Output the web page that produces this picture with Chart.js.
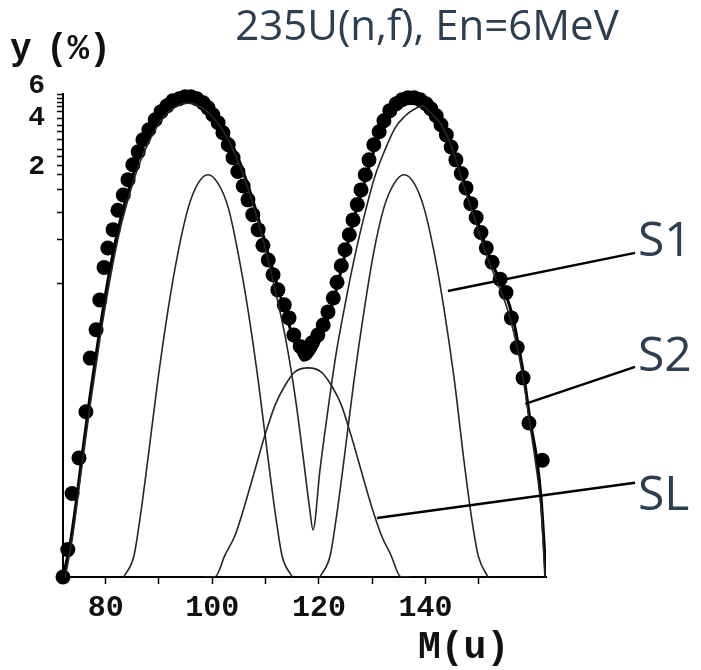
<!DOCTYPE html>
<html>
<head>
<meta charset="utf-8">
<script src="https://cdn.jsdelivr.net/npm/chart.js@4"></script>
<style>
  html, body { margin: 0; padding: 0; background: #fff; }
  canvas { display: block; }
</style>
</head>
<body>
<canvas id="yields" width="701" height="670"></canvas>
<script>
// measured fission yields (dots)
const massPoints = [72.0, 72.9, 73.7, 75.0, 76.3, 77.1, 78.2, 78.9, 79.7, 80.4, 81.4, 82.3, 83.3, 84.2, 85.1, 86.1, 87.0, 88.1, 89.3, 90.4,
  91.5, 92.6, 93.8, 94.9, 96.0, 97.1, 98.3, 99.2, 100.1, 101.1, 102.0, 103.0, 103.9, 104.8, 105.8, 106.7, 107.6, 108.6, 109.5, 110.5,
  111.4, 112.3, 113.5, 114.4, 115.3, 116.5, 117.6, 118.7, 119.8, 120.8, 121.7, 122.7, 123.4, 124.2, 124.9, 125.7, 126.4, 127.2, 127.9, 128.7,
  129.4, 130.3, 131.3, 132.2, 133.3, 134.5, 135.6, 136.7, 137.9, 139.0, 140.1, 141.0, 142.0, 142.9, 143.9, 144.8, 145.7, 146.7, 147.6, 148.5,
  149.5, 150.4, 151.4, 152.5, 154.0, 155.1, 156.1, 157.2, 158.3, 159.4, 161.9];
const yieldPoints = [0, 2e-7, 1.6e-4, 1.35e-3, 0.0096, 0.052, 0.108, 0.214, 0.416, 0.60, 0.83, 1.15, 1.47, 1.86, 2.32, 2.79, 3.30, 3.78, 4.32, 4.80,
  5.17, 5.51, 5.65, 5.79, 5.79, 5.65, 5.37, 5.04, 4.61, 4.15, 3.63, 3.08, 2.57, 2.10, 1.69, 1.36, 1.07, 0.83, 0.63, 0.48,
  0.36, 0.265, 0.192, 0.143, 0.095, 0.071, 0.061, 0.078, 0.095, 0.121, 0.164, 0.223, 0.31, 0.43, 0.58, 0.76, 0.98, 1.26, 1.59, 2.0,
  2.49, 3.08, 3.68, 4.26, 4.86, 5.31, 5.58, 5.72, 5.72, 5.58, 5.31, 4.98, 4.55, 4.04, 3.53, 2.99, 2.49, 2.04, 1.64, 1.28,
  1.02, 0.79, 0.60, 0.46, 0.33, 0.25, 0.143, 0.069, 0.0295, 0.0063, 0.0012];

// total fit (thick line)
const fitMass = [72.0, 73.3, 74.4, 75.6, 77.1, 78.9, 80.8, 82.7, 84.6, 86.4, 88.3, 90.2, 92.1, 94.0, 95.8, 97.7, 99.6, 101.5, 103.3, 105.2,
  107.1, 109.0, 110.8, 112.7, 114.6, 115.9, 117.0, 118.3, 119.8, 121.3, 123.0, 124.9, 126.8, 128.7, 130.5, 132.4, 134.3, 136.2, 138.0, 139.9,
  141.8, 143.7, 145.5, 147.4, 149.3, 151.4, 153.2, 155.1, 156.4, 157.4, 158.5, 159.6, 160.9, 161.7, 162.2, 162.6];
const fitYield = [0, 5e-7, 6.6e-5, 1.56e-3, 0.0172, 0.108, 0.40, 0.96, 1.72, 2.68, 3.68, 4.55, 5.17, 5.51, 5.58, 5.37, 4.92, 4.21, 3.30, 2.39,
  1.54, 0.90, 0.48, 0.238, 0.112, 0.065, 0.049, 0.053, 0.074, 0.121, 0.238, 0.53, 1.07, 1.86, 2.95, 4.21, 5.17, 5.58, 5.58, 5.24,
  4.55, 3.63, 2.64, 1.72, 1.07, 0.60, 0.381, 0.238, 0.143, 0.074, 0.0294, 0.0071, 0.0012, 0.0001, 1.2e-6, 0];

// S1 mode (two narrow humps)
const s1Mass = [83.4, 85.3, 86.4, 87.9, 89.8, 91.7, 93.6, 95.5, 97.3, 99.2, 101.1, 103.0, 104.8, 106.7, 108.6, 110.5, 112.0, 113.1, 115.0,
  117.6,
  120.2, 122.1, 123.2, 124.7, 126.6, 128.5, 130.3, 132.2, 134.1, 136.0, 137.9, 139.7, 141.6, 143.5, 145.4, 147.2, 148.7, 149.9, 151.7];
const s1Yield = [0, 4e-8, 1.6e-5, 0.0012, 0.0277, 0.172, 0.559, 1.20, 1.75, 2.0, 1.75, 1.20, 0.559, 0.172, 0.0277, 0.0012, 1.6e-5, 4e-8, 0,
  null,
  0, 4e-8, 1.6e-5, 0.0012, 0.0277, 0.172, 0.559, 1.20, 1.75, 2.0, 1.75, 1.20, 0.559, 0.172, 0.0277, 0.0012, 1.6e-5, 4e-8, 0];

// S2 mode
const s2Mass = [72.4, 73.7, 75.2, 77.1, 78.9, 80.8, 82.7, 84.6, 86.4, 88.3, 90.2, 92.1, 94.0, 95.5, 97.0, 98.8, 100.7, 102.6, 104.4, 106.3,
  108.1, 110.0, 111.9, 113.8, 115.5, 117.0, 118.3, 118.9, 120.2, 121.7, 123.2, 124.9, 126.8, 128.7, 130.5, 132.4, 134.3, 136.2, 137.7, 139.4,
  141.0, 142.7, 144.2, 145.7, 147.4, 149.3, 151.2, 153.1, 154.9, 156.2, 157.4, 158.5, 159.6, 160.7, 161.7, 162.4];
const s2Yield = [0, 1.2e-6, 3.9e-4, 0.0123, 0.084, 0.325, 0.83, 1.54, 2.39, 3.30, 4.21, 4.86, 5.24, 5.37, 5.24, 4.86, 4.26, 3.48, 2.64, 1.79,
  1.11, 0.58, 0.25, 0.084, 0.0172, 0.00156, 4.3e-5, 5.1e-6, 7.1e-4, 0.0103, 0.057, 0.192, 0.53, 1.12, 1.95, 2.87, 3.88, 4.55, 4.92, 5.15,
  4.73, 4.15, 3.39, 2.49, 1.59, 0.98, 0.56, 0.34, 0.205, 0.121, 0.061, 0.0237, 0.0058, 0.00094, 4.3e-5, 0];

// SL mode
const slMass = [98.6, 100.5, 102.4, 104.3, 106.1, 108.0, 109.9, 111.8, 113.7, 115.5, 118.0, 120.4, 122.3, 124.2, 126.0, 127.9, 129.8, 131.7, 133.5, 135.4, 137.3];
const slYield = [0, 0, 5.4e-8, 2.6e-6, 6.6e-5, 0.00071, 0.0039, 0.0123, 0.0237, 0.0352, 0.0395, 0.0352, 0.0237, 0.0123, 0.0039, 0.00071, 6.6e-5, 2.6e-6, 5.4e-8, 0, 0];

// axes
const xTicks = [80, 90, 100, 110, 120, 130, 140, 150];
const xLabelled = [80, 100, 120, 140];
const yTicks = [0.3, 0.7, 1.1, 1.6, 2, 2.3, 2.6, 2.9, 3.3, 3.7, 4, 4.4, 4.8, 5.1, 5.4, 5.7, 6];
const yLabelled = [2, 4, 6];

// mode labels with leader lines (curve end / label end in data units)
const modeNames = ["S1", "S2", "SL"];
const leaderCurveMass = [144.2, 158.7, 130.9];
const leaderCurveYield = [0.259, 0.0127, 2.0e-5];
const leaderLabelMass = [179.3, 179.3, 179.3];
const leaderLabelYield = [0.548, 0.0407, 0.00033];

const POW = 1 / 6; // y axis is drawn on a root scale

class PowerScale extends Chart.LinearScale {
  static id = "power";
  static defaults = Chart.LinearScale.defaults;
  getPixelForValue(value) {
    if (value === null || value === undefined || isNaN(value)) return NaN;
    const a = Math.pow(Math.max(this.min, 0), POW);
    const b = Math.pow(this.max, POW);
    return this.getPixelForDecimal((Math.pow(Math.max(value, 0), POW) - a) / (b - a));
  }
  getValueForPixel(pixel) {
    const a = Math.pow(Math.max(this.min, 0), POW);
    const b = Math.pow(this.max, POW);
    return Math.pow(a + this.getDecimalForPixel(pixel) * (b - a), 1 / POW);
  }
}
Chart.register(PowerScale);

function pairs(xs, ys) {
  return xs.map((x, i) => ({ x: x, y: ys[i] }));
}

const textColor = "#2c3e50";
const monoFont = "'Liberation Mono', 'DejaVu Sans Mono', monospace";

const extrasPlugin = {
  id: "extras",
  afterDraw(chart) {
    const ctx = chart.ctx;
    const xs = chart.scales.x;
    const ys = chart.scales.y;
    ctx.save();

    // title
    ctx.fillStyle = textColor;
    ctx.font = "42px 'Open Sans', 'Noto Sans', sans-serif";
    ctx.textAlign = "center";
    ctx.textBaseline = "middle";
    ctx.fillText("235U(n,f), En=6MeV", 427, 28);

    // axis titles
    ctx.fillStyle = "#111";
    ctx.font = "bold 36px " + monoFont;
    ctx.textAlign = "left";
    ctx.fillText("y", 10, 50);
    ctx.fillText("(%)", 46, 50);
    ctx.font = "bold 38px " + monoFont;
    ctx.fillText("M(u)", 418, 648);

    // leader lines
    ctx.strokeStyle = "#000";
    ctx.lineWidth = 2.5;
    for (let i = 0; i < modeNames.length; i++) {
      ctx.beginPath();
      ctx.moveTo(xs.getPixelForValue(leaderLabelMass[i]), ys.getPixelForValue(leaderLabelYield[i]));
      ctx.lineTo(xs.getPixelForValue(leaderCurveMass[i]), ys.getPixelForValue(leaderCurveYield[i]));
      ctx.stroke();
    }

    // mode names
    ctx.fillStyle = textColor;
    ctx.font = "48px 'Open Sans', 'Noto Sans', sans-serif";
    ctx.textAlign = "left";
    const nameOffset = [-11, -10, 14];
    for (let i = 0; i < modeNames.length; i++) {
      const px = xs.getPixelForValue(leaderLabelMass[i]);
      const py = ys.getPixelForValue(leaderLabelYield[i]);
      ctx.fillText(modeNames[i], px + 3, py + nameOffset[i]);
    }
    ctx.restore();
  }
};

const thinLine = {
  showLine: true,
  pointRadius: 0,
  borderColor: "#262626",
  borderWidth: 1.6,
  cubicInterpolationMode: "monotone",
  spanGaps: false
};

new Chart(document.getElementById("yields"), {
  type: "scatter",
  data: {
    datasets: [
      Object.assign({ label: "S1", data: pairs(s1Mass, s1Yield) }, thinLine),
      Object.assign({ label: "S2", data: pairs(s2Mass, s2Yield) }, thinLine),
      Object.assign({ label: "SL", data: pairs(slMass, slYield) }, thinLine),
      {
        label: "fit",
        data: pairs(fitMass, fitYield),
        showLine: true,
        pointRadius: 0,
        borderColor: "#000",
        borderWidth: 3,
        cubicInterpolationMode: "monotone"
      },
      {
        label: "data",
        data: pairs(massPoints, yieldPoints),
        showLine: false,
        pointRadius: 7.5,
        pointBackgroundColor: "#000",
        pointBorderWidth: 0,
        clip: false
      }
    ]
  },
  options: {
    responsive: false,
    animation: false,
    devicePixelRatio: 1,
    layout: { padding: { top: 94, right: 155, left: 0, bottom: 0 } },
    plugins: {
      legend: { display: false },
      title: { display: false },
      tooltip: { enabled: false }
    },
    scales: {
      x: {
        type: "linear",
        min: 72,
        max: 162.6,
        afterFit: (scale) => { scale.height = 93; },
        afterBuildTicks: (scale) => { scale.ticks = xTicks.map(v => ({ value: v })); },
        border: { display: true, color: "#000", width: 2 },
        grid: { drawOnChartArea: false, drawTicks: true, tickLength: 7, tickColor: "#000", tickWidth: 1.5 },
        ticks: {
          autoSkip: false,
          maxRotation: 0,
          padding: 6,
          color: "#111",
          font: { family: monoFont, size: 30, weight: "bold" },
          callback: (v) => xLabelled.includes(v) ? String(v) : ""
        }
      },
      y: {
        type: "power",
        min: 0,
        max: 6,
        afterFit: (scale) => { scale.width = 63; },
        afterBuildTicks: (scale) => { scale.ticks = yTicks.map(v => ({ value: v })); },
        border: { display: true, color: "#000", width: 2 },
        grid: { drawOnChartArea: false, drawTicks: true, tickLength: 6, tickColor: "#000", tickWidth: 1.5 },
        ticks: {
          autoSkip: false,
          padding: 12,
          labelOffset: -8,
          color: "#111",
          font: { family: monoFont, size: 28, weight: "bold" },
          callback: (v) => yLabelled.includes(v) ? String(v) : ""
        }
      }
    }
  },
  plugins: [extrasPlugin]
});
</script>
</body>
</html>
